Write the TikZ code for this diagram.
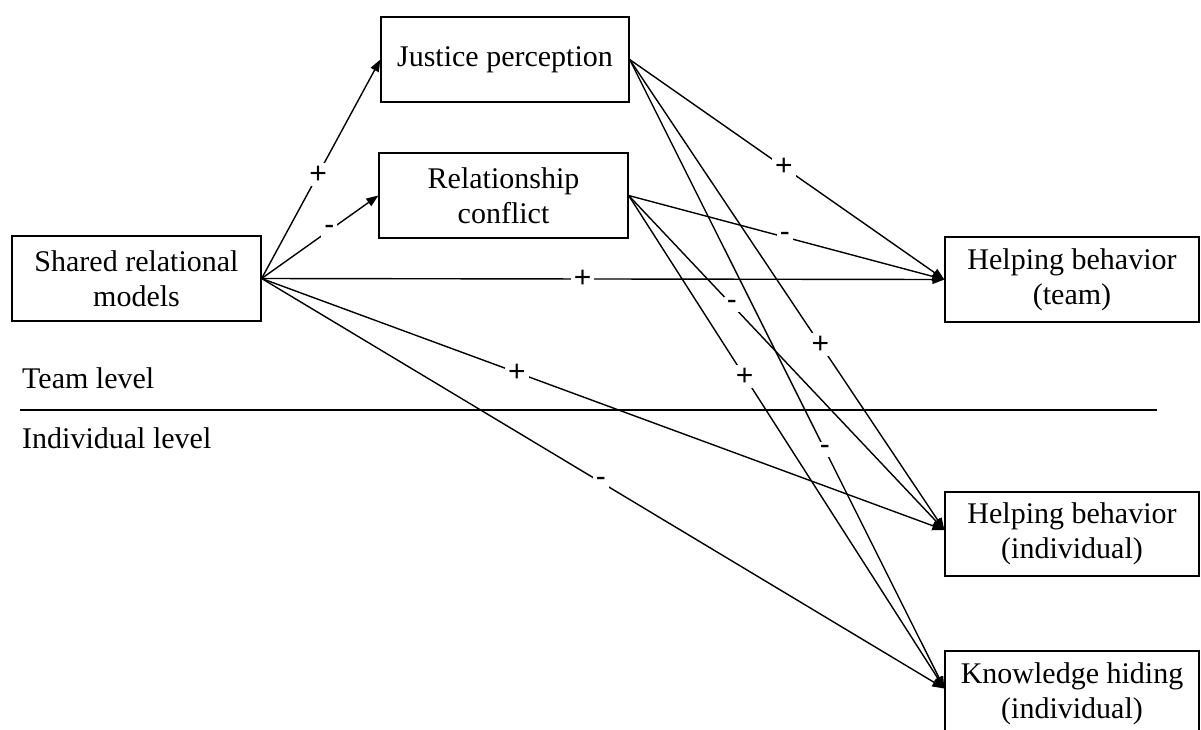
\documentclass[tikz,border=0pt]{standalone}
\usepackage{fontspec}
\setmainfont{Liberation Serif}
\newfontfamily\labfont{Liberation Sans}
\usetikzlibrary{arrows.meta}
\begin{document}
\begin{tikzpicture}[x=1pt,y=-1pt,
 box/.style={draw,line width=1.3pt,minimum width=249pt,minimum height=85pt,align=center,font=\fontsize{30}{35}\selectfont,inner sep=0pt},
 conn/.style={line width=1.4pt,-{Triangle[length=12pt,width=9pt]}},
 sign/.style={fill=white,font=\labfont\fontsize{30}{32}\selectfont,inner sep=3pt},
 lvl/.style={anchor=west,font=\fontsize{30}{35}\selectfont,inner sep=0pt}]
\useasboundingbox (0,0) rectangle (1201,729);
\node[box] (srm) at (136.5,278.5) {Shared relational\\models};
\node[box,minimum width=248pt] (jp) at (505,59.5) {Justice perception};
\node[box] (rc) at (503.5,195.5) {Relationship\\conflict};
\node[box,minimum width=254pt] (hbt) at (1072,279.5) {Helping behavior\\(team)};
\node[box,minimum width=254pt,minimum height=84pt] (hbi) at (1072,534) {Helping behavior\\(individual)};
\node[box,minimum width=254pt] (kh) at (1072,693.5) {Knowledge hiding\\(individual)};
\node[lvl] (tl) at (22,378) {Team level};
\node[lvl] (il) at (22,438) {Individual level};
\coordinate (dl) at (20,410);
\coordinate (dr) at (1157,410);
\draw[line width=1.6pt] (dl) -- (dr);
% connectors
\draw[conn] (srm.east) -- node[sign,pos=0.475] {+} (jp.west);
\draw[conn] (srm.east) -- node[sign,pos=0.58] {-} (rc.west);
\draw[conn] (srm.east) -- node[sign,pos=0.47] {+} (hbt.west);
\draw[conn] (srm.east) -- node[sign,pos=0.374] {+} ([yshift=4pt]hbi.west);
\draw[conn] (srm.east) -- node[sign,pos=0.497] {-} ([yshift=5pt]kh.west);
\draw[conn] (jp.east) -- node[sign,pos=0.49] {+} (hbt.west);
\draw[conn] (rc.east) -- node[sign,pos=0.495] {-} (hbt.west);
\draw[conn] (rc.east) -- node[sign,pos=0.327] {-} ([yshift=4pt]hbi.west);
\draw[conn] (rc.east) -- node[sign,pos=0.367] {+} ([yshift=5pt]kh.west);
\draw[conn] (jp.east) -- node[sign,pos=0.606] {+} ([yshift=4pt]hbi.west);
\draw[conn] (jp.east) -- node[sign,pos=0.62] {-} ([yshift=5pt]kh.west);
\end{tikzpicture}
\end{document}
